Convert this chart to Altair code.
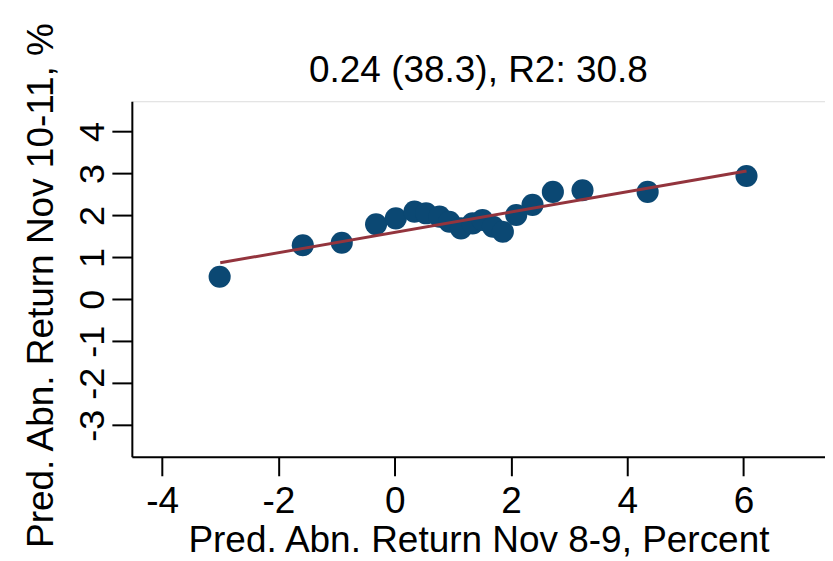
import altair as alt
import pandas as pd

# Binned scatter (20 bins)
x_vals = [-3.01, -1.58, -0.91, -0.32, 0.02, 0.34, 0.54, 0.77, 0.94, 1.14,
          1.34, 1.51, 1.69, 1.86, 2.09, 2.37, 2.72, 3.23, 4.35, 6.05]
y_vals = [0.54, 1.29, 1.35, 1.79, 1.93, 2.09, 2.05, 1.97, 1.85, 1.69,
          1.81, 1.89, 1.73, 1.61, 2.01, 2.25, 2.56, 2.60, 2.56, 2.94]

# Linear fit endpoints
fit_x = [-3.00, 6.05]
fit_y = [0.87, 3.06]

x_ticks = [-4, -2, 0, 2, 4, 6]
y_ticks = [-3, -2, -1, 0, 1, 2, 3, 4]

title_text = "0.24 (38.3), R2: 30.8"
x_title = "Pred. Abn. Return Nov 8-9, Percent"
y_title = "Pred. Abn. Return Nov 10-11, %"

FONT = "Liberation Sans"
W, H = 694, 356
pts = pd.DataFrame({"x": x_vals, "y": y_vals})
fit = pd.DataFrame({"x": fit_x, "y": fit_y})
ttl = pd.DataFrame({"t": [title_text]})

xscale = alt.Scale(domain=[-4.52, 7.4], nice=False, zero=False)
yscale = alt.Scale(domain=[-3.75, 4.72], nice=False, zero=False)

xaxis = alt.Axis(values=x_ticks, title=x_title, grid=False,
                 labelExpr="datum.value + ''",
                 domainColor="black", domainWidth=2, tickColor="black",
                 tickWidth=2, tickSize=19, labelFont=FONT, labelFontSize=37,
                 labelColor="black", labelPadding=8, labelAngle=0,
                 labelBaseline="top", labelAlign="center",
                 titleFont=FONT, titleFontSize=37, titleFontWeight="normal",
                 titleColor="black", titleBaseline="alphabetic",
                 titleY=95, titleAnchor="middle")
yaxis = alt.Axis(values=y_ticks, title=y_title, grid=False,
                 labelExpr="datum.value + ''",
                 domainColor="black", domainWidth=2, tickColor="black",
                 tickWidth=2, tickSize=20, labelFont=FONT, labelFontSize=36,
                 labelColor="black", labelPadding=8, labelAngle=270,
                 labelAlign="center", labelBaseline="alphabetic",
                 titleFont=FONT, titleFontSize=37, titleFontWeight="normal",
                 titleColor="black", titleAngle=270, titleBaseline="alphabetic",
                 titleAlign="center", titleX=-79, titleY=184)

points = alt.Chart(pts).mark_circle(size=490, opacity=1, color="#0b4873").encode(
    x=alt.X("x:Q", scale=xscale, axis=xaxis),
    y=alt.Y("y:Q", scale=yscale, axis=yaxis),
)
line = alt.Chart(fit).mark_line(color="#93343d", strokeWidth=3).encode(
    x=alt.X("x:Q", scale=xscale),
    y=alt.Y("y:Q", scale=yscale),
)
title = alt.Chart(ttl).mark_text(
    font=FONT, fontSize=37, color="black", align="center", baseline="alphabetic"
).encode(
    text="t:N", x=alt.value(W / 2), y=alt.value(-19)
)

chart = alt.layer(points, line, title).properties(
    width=W, height=H,
    padding={"left": 124, "top": 93, "right": 0, "bottom": 104},
    autosize="none",
).configure_view(stroke=None).configure(background="white")

chart.save("out.html", embed_options={"renderer": "svg", "actions": False})
